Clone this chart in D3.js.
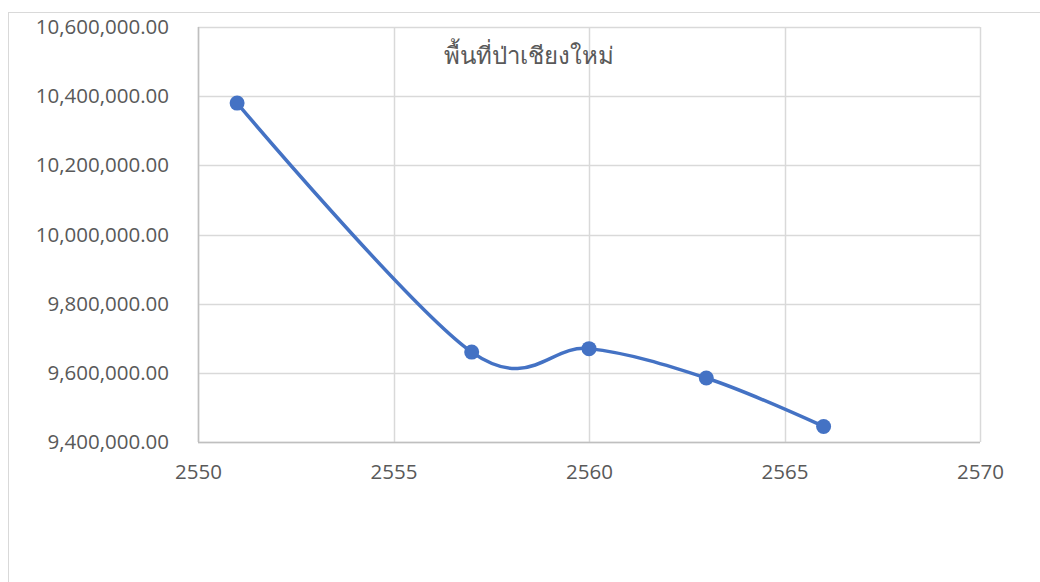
<!DOCTYPE html>
<html><head><meta charset="utf-8">
<script src="https://cdn.jsdelivr.net/npm/d3@7"></script>
<style>
html,body{margin:0;padding:0;background:#fff;}
svg{display:block;}
text{font-family:"Segoe UI","Open Sans","Noto Sans",sans-serif;fill:#595959;}
</style></head>
<body>
<script>
const title = "พื้นที่ป่าเชียงใหม่";
const years = [2551, 2557, 2560, 2563, 2566];
const forestArea = [10380000, 9660000, 9670000, 9585000, 9445000];
const yTicks = [9400000, 9600000, 9800000, 10000000, 10200000, 10400000, 10600000];
const xTicks = [2550, 2555, 2560, 2565, 2570];

const W = 1040, H = 582;
const svg = d3.select("body").append("svg").attr("width", W).attr("height", H);

// chart area border
svg.append("rect").attr("x", 8.5).attr("y", 12.5).attr("width", 1100).attr("height", 700)
  .attr("fill", "#fff").attr("stroke", "#d9d9d9").attr("stroke-width", 1);

const L = 198, R = 980, T = 27, B = 442;
const x = d3.scaleLinear().domain([2550, 2570]).range([L, R]);
const y = d3.scaleLinear().domain([9400000, 10600000]).range([B, T]);

// gridlines
svg.append("g").selectAll("line.h").data(yTicks).join("line")
  .attr("x1", L).attr("x2", R)
  .attr("y1", d => Math.round(y(d)) + 0.5).attr("y2", d => Math.round(y(d)) + 0.5)
  .attr("stroke", "#d9d9d9").attr("stroke-width", 1.5);
svg.append("g").selectAll("line.v").data(xTicks).join("line")
  .attr("y1", T).attr("y2", B)
  .attr("x1", d => Math.round(x(d)) + 0.5).attr("x2", d => Math.round(x(d)) + 0.5)
  .attr("stroke", "#d9d9d9").attr("stroke-width", 1.5);

// axis lines
svg.append("line").attr("x1", L).attr("x2", R).attr("y1", B + 0.5).attr("y2", B + 0.5)
  .attr("stroke", "#bfbfbf").attr("stroke-width", 1.5);
svg.append("line").attr("x1", L + 0.5).attr("x2", L + 0.5).attr("y1", T).attr("y2", B)
  .attr("stroke", "#bfbfbf").attr("stroke-width", 1.5);

// axes labels via d3 axes
const fmt = d3.format(",.2f");
const yAxis = svg.append("g").attr("transform", `translate(${L},0)`)
  .call(d3.axisLeft(y).tickValues(yTicks).tickFormat(fmt).tickSize(0).tickPadding(29));
yAxis.select(".domain").remove();
yAxis.selectAll("text").style("font-size", "20.5px").attr("fill", "#595959");

const xAxis = svg.append("g").attr("transform", `translate(0,${B})`)
  .call(d3.axisBottom(x).tickValues(xTicks).tickFormat(d3.format("d")).tickSize(0).tickPadding(22));
xAxis.select(".domain").remove();
xAxis.selectAll("text").style("font-size", "20.5px").attr("fill", "#595959");

// title
svg.append("text").attr("x", 529).attr("y", 64).attr("text-anchor", "middle")
  .style("font-size", "24px").style("font-weight", "300").text(title);

// line
const data = years.map((yr, i) => ({yr, v: forestArea[i]}));
const line = d3.line().x(d => x(d.yr)).y(d => y(d.v)).curve(d3.curveCatmullRom.alpha(0));
svg.append("path").datum(data).attr("d", line)
  .attr("fill", "none").attr("stroke", "#4472C4").attr("stroke-width", 3.5).attr("stroke-linecap", "round");

svg.append("g").selectAll("circle").data(data).join("circle")
  .attr("cx", d => x(d.yr)).attr("cy", d => y(d.v)).attr("r", 7.5)
  .attr("fill", "#4472C4");
</script>
</body></html>
